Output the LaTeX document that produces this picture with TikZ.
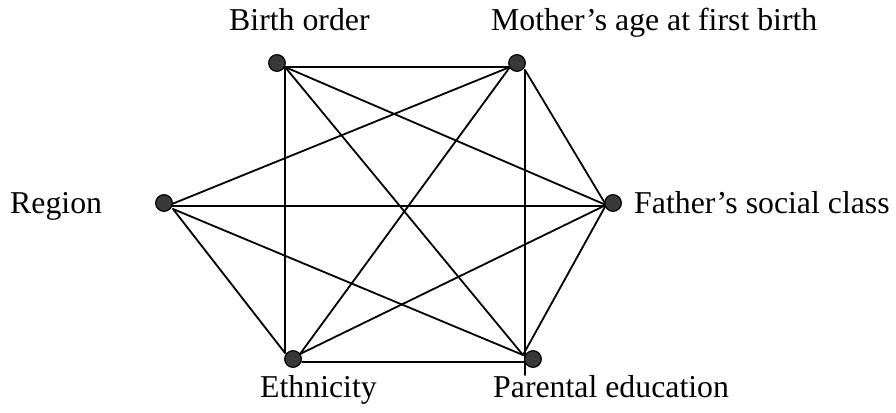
\documentclass[tikz,border=0pt]{standalone}
\usepackage{fontspec}
\setmainfont{Liberation Serif}
\begin{document}
\begin{tikzpicture}[x=1pt,y=-1pt,
  dot/.style={circle,draw=black,fill=black!78,line width=1pt,minimum size=16.5pt,inner sep=0pt},
  lab/.style={anchor=base west,inner sep=0pt,font=\fontsize{31.8}{36}\selectfont},
  edge/.style={line width=1.8pt,line cap=round}]
\useasboundingbox (0,0) rectangle (896,412);
% dots
\node[dot] (bo) at (277,63) {};
\node[dot] (mo) at (517,63) {};
\node[dot] (re) at (164,203) {};
\node[dot] (fa) at (613,203) {};
\node[dot] (et) at (293,359) {};
\node[dot] (pe) at (533,359) {};
% line attachment points
\coordinate (boA) at (285,67);
\coordinate (moA) at (510,67);
\coordinate (moB) at (525,70);
\coordinate (moC) at (525,375);
\coordinate (reA) at (172,204);
\coordinate (reB) at (173,209);
\coordinate (faA) at (606,205);
\coordinate (faB) at (606,206);
\coordinate (reC) at (172,206);
\coordinate (etA) at (285,353);
\coordinate (etB) at (300,354);
\coordinate (etC) at (302,362);
\coordinate (peA) at (523,355);
\coordinate (peB) at (524,362);
% edges
\begin{scope}[edge]
\draw (boA) -- (moA);
\draw (boA) -- (etA);
\draw (boA) -- (faA);
\draw (boA) -- (peA);
\draw (moA) -- (reA);
\draw (moA) -- (etB);
\draw (moB) -- (faA);
\draw (moB) -- (moC);
\draw (reC) -- (faB);
\draw (reB) -- (etA);
\draw (reB) -- (peA);
\draw (etB) -- (faA);
\draw (etC) -- (peB);
\draw (faA) -- (peA);
\end{scope}
% redraw dots on top
\node[dot] at (bo) {};
\node[dot] at (mo) {};
\node[dot] at (re) {};
\node[dot] at (fa) {};
\node[dot] at (et) {};
\node[dot] at (pe) {};
% labels
\node[lab] (lbo) at (229,31) {Birth order};
\node[lab] (lmo) at (491,31) {Mother’s age at first birth};
\node[lab] (lre) at (10,213) {Region};
\node[lab] (lfa) at (634,213) {Father’s social class};
\node[lab] (let) at (260,397) {Ethnicity};
\node[lab] (lpe) at (493,397) {Parental education};
\end{tikzpicture}
\end{document}
